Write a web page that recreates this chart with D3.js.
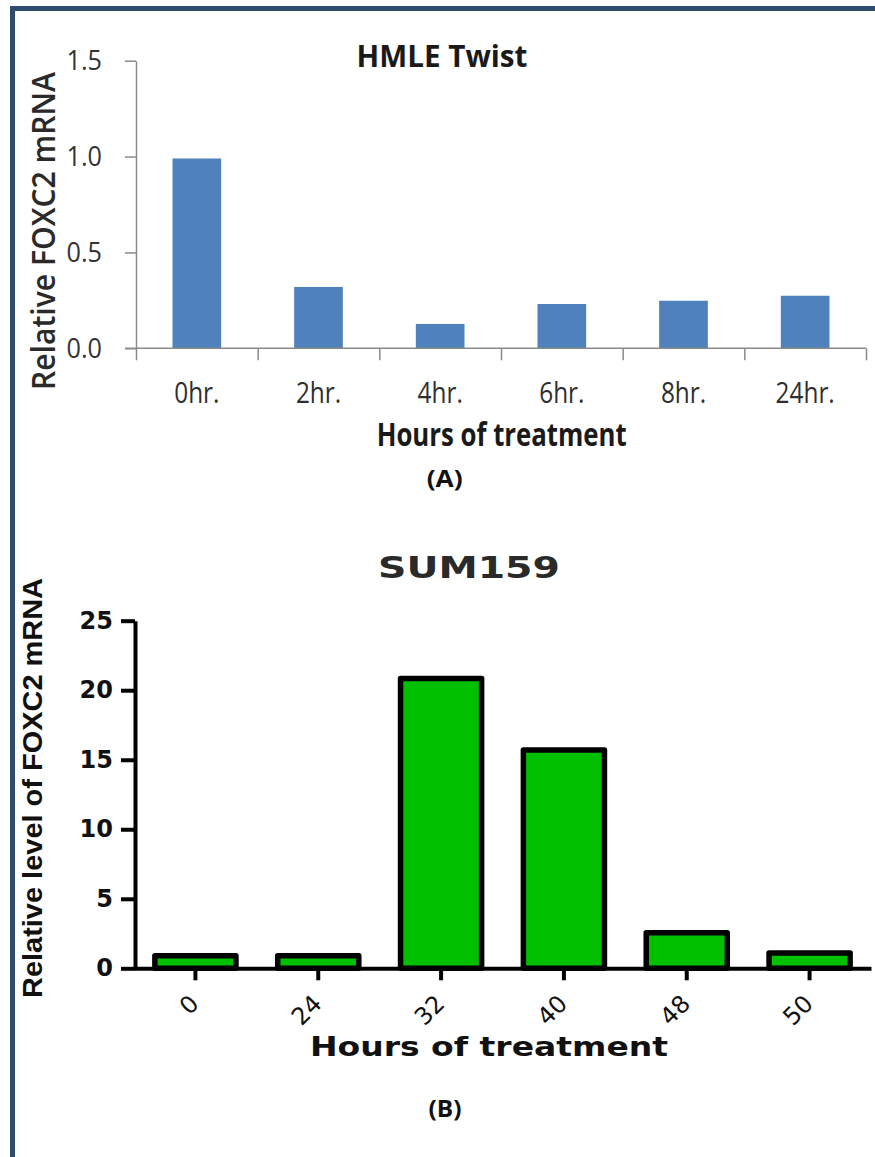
<!DOCTYPE html>
<html>
<head>
<meta charset="utf-8">
<script src="https://cdn.jsdelivr.net/npm/d3@7"></script>
<style>
  body { margin: 0; background: #fff; }
  svg { display: block; }
</style>
</head>
<body>
<div id="chart-area"></div>
<script>
// Data: panel A (HMLE Twist)
const hoursA = ['0hr.', '2hr.', '4hr.', '6hr.', '8hr.', '24hr.'];
const foxc2A = [0.99, 0.32, 0.127, 0.231, 0.248, 0.274];
const ticksA = [0, 0.5, 1.0, 1.5];

// Data: panel B (SUM159)
const hoursB = ['0', '24', '32', '40', '48', '50'];
const foxc2B = [0.9, 0.9, 20.85, 15.7, 2.55, 1.1];
const ticksB = [0, 5, 10, 15, 20, 25];

const W = 875, H = 1157;
const NAVY = '#2f4b70';
const CAL = "'Open Sans', 'Noto Sans', sans-serif";
const ARIAL = "'Liberation Sans', Arial, sans-serif";
const DEJA = "'DejaVu Sans', sans-serif";

const svg = d3.select('#chart-area')
    .append('svg')
    .attr('width', W)
    .attr('height', H);

svg.append('rect').attr('width', W).attr('height', H).attr('fill', '#fff');

// frame (top + left edge only)
svg.append('rect').attr('x', 10).attr('y', 6).attr('width', W - 10).attr('height', 5).attr('fill', NAVY);
svg.append('rect').attr('x', 10).attr('y', 6).attr('width', 5).attr('height', H - 6).attr('fill', NAVY);

// squeeze a text to a factor of its natural width
function condense(sel, k) {
    sel.each(function () {
        const w = this.getComputedTextLength();
        d3.select(this).attr('textLength', w * k).attr('lengthAdjust', 'spacingAndGlyphs');
    });
}

// ---------------- Panel A ----------------
const gA = svg.append('g');
const xA = d3.scaleBand()
    .domain(hoursA)
    .range([136, 866])
    .paddingInner(0.6)
    .paddingOuter(0.3);
const xAb = d3.scaleLinear().domain([0, hoursA.length]).range([136, 866]);
const yA = d3.scaleLinear().domain([0, 1.5]).range([348.3, 60.7]);

gA.selectAll('rect.bar')
    .data(foxc2A)
    .enter().append('rect')
    .attr('class', 'bar')
    .attr('x', (d, i) => xA(hoursA[i]))
    .attr('width', xA.bandwidth())
    .attr('y', d => yA(d))
    .attr('height', d => yA(0) - yA(d))
    .attr('fill', '#4f81bd');

// y axis
const yAxisA = gA.append('g')
    .attr('transform', 'translate(136,0)')
    .call(d3.axisLeft(yA).tickValues(ticksA).tickFormat(d3.format('.1f')).tickSize(11).tickSizeOuter(0).tickPadding(23));
yAxisA.select('.domain').attr('stroke', '#8a8a8a').attr('stroke-width', 1.5);
yAxisA.selectAll('.tick line').attr('stroke', '#8a8a8a').attr('stroke-width', 1.5);
yAxisA.selectAll('text')
    .attr('font-family', CAL).attr('font-size', 28).attr('fill', '#333')
    .call(condense, 0.9);

// x axis boundary ticks
const xAxisA = gA.append('g')
    .attr('transform', `translate(0,${yA(0)})`)
    .call(d3.axisBottom(xAb).ticks(hoursA.length).tickFormat('').tickSize(12).tickSizeOuter(0));
xAxisA.select('.domain').remove();
xAxisA.selectAll('.tick line').attr('stroke', '#8a8a8a').attr('stroke-width', 1.5);
gA.append('line')
    .attr('x1', 125).attr('x2', 866)
    .attr('y1', yA(0)).attr('y2', yA(0))
    .attr('stroke', '#8a8a8a').attr('stroke-width', 1.5);

// x labels
const xLabA = gA.append('g')
    .attr('transform', `translate(0,${yA(0)})`)
    .call(d3.axisBottom(xA).tickSize(0));
xLabA.select('.domain').remove();
xLabA.selectAll('text')
    .attr('y', 55).attr('dy', 0)
    .attr('font-family', CAL).attr('font-size', 29).attr('fill', '#2e2e2e')
    .call(condense, 0.84);

gA.append('text')
    .attr('x', 442).attr('y', 66.7)
    .attr('text-anchor', 'middle')
    .attr('font-family', CAL).attr('font-size', 30).attr('font-weight', 700).attr('fill', '#1a1a1a')
    .attr('textLength', 171).attr('lengthAdjust', 'spacingAndGlyphs')
    .text('HMLE Twist');

gA.append('text')
    .attr('transform', 'translate(55,231) rotate(-90)')
    .attr('text-anchor', 'middle')
    .attr('font-family', CAL).attr('font-size', 32).attr('font-weight', 600).attr('fill', '#2a2a2a')
    .attr('textLength', 318).attr('lengthAdjust', 'spacingAndGlyphs')
    .text('Relative FOXC2 mRNA');

gA.append('text')
    .attr('x', 501.7).attr('y', 446)
    .attr('text-anchor', 'middle')
    .attr('font-family', CAL).attr('font-size', 32).attr('font-weight', 700).attr('fill', '#1a1a1a')
    .attr('textLength', 250).attr('lengthAdjust', 'spacingAndGlyphs')
    .text('Hours of treatment');

gA.append('text')
    .attr('x', 444.7).attr('y', 487)
    .attr('text-anchor', 'middle')
    .attr('font-family', CAL).attr('font-size', 24).attr('font-weight', 700).attr('fill', '#111')
    .attr('textLength', 36).attr('lengthAdjust', 'spacingAndGlyphs')
    .text('(A)');

// ---------------- Panel B ----------------
const gB = svg.append('g');
const xB = d3.scaleBand()
    .domain(hoursB)
    .range([134, 871]);
const yB = d3.scaleLinear().domain([0, 25]).range([968.3, 620.7]);
const barW = xB.bandwidth() * 0.66;

gB.selectAll('rect.bar')
    .data(foxc2B)
    .enter().append('rect')
    .attr('class', 'bar')
    .attr('x', (d, i) => xB(hoursB[i]) + (xB.bandwidth() - barW) / 2)
    .attr('width', barW)
    .attr('y', d => yB(d))
    .attr('height', d => yB(0) - yB(d))
    .attr('fill', '#00c000')
    .attr('stroke', '#000')
    .attr('stroke-width', 5.5)
    .attr('stroke-linejoin', 'round');

const yAxisB = gB.append('g')
    .attr('transform', 'translate(135,0)')
    .call(d3.axisLeft(yB).tickValues(ticksB).tickSize(14).tickSizeOuter(0).tickPadding(8));
yAxisB.select('.domain').attr('stroke', '#000').attr('stroke-width', 4);
yAxisB.selectAll('.tick line').attr('stroke', '#000').attr('stroke-width', 4);
yAxisB.selectAll('text')
    .attr('font-family', DEJA).attr('font-size', 24).attr('font-weight', 700).attr('fill', '#111');

const xAxisB = gB.append('g')
    .attr('transform', `translate(0,${yB(0)})`)
    .call(d3.axisBottom(xB).tickSize(12).tickSizeOuter(0));
xAxisB.select('.domain').attr('stroke', '#000').attr('stroke-width', 4);
xAxisB.selectAll('.tick line').attr('stroke', '#000').attr('stroke-width', 4);
xAxisB.selectAll('text')
    .attr('y', 0).attr('dy', '0.35em')
    .attr('text-anchor', 'end')
    .attr('transform', 'translate(-1,31) rotate(-45)')
    .attr('font-family', DEJA).attr('font-size', 24).attr('font-weight', 400).attr('fill', '#111');

gB.append('text')
    .attr('x', 469).attr('y', 578)
    .attr('text-anchor', 'middle')
    .attr('font-family', DEJA).attr('font-size', 31).attr('font-weight', 700).attr('fill', '#2a2a2a')
    .attr('textLength', 182).attr('lengthAdjust', 'spacingAndGlyphs')
    .text('SUM159');

gB.append('text')
    .attr('transform', 'translate(42,788) rotate(-90)')
    .attr('text-anchor', 'middle')
    .attr('font-family', ARIAL).attr('font-size', 28).attr('font-weight', 700).attr('fill', '#111')
    .attr('textLength', 420).attr('lengthAdjust', 'spacingAndGlyphs')
    .text('Relative level of  FOXC2 mRNA');

gB.append('text')
    .attr('x', 489).attr('y', 1056)
    .attr('text-anchor', 'middle')
    .attr('font-family', DEJA).attr('font-size', 26).attr('font-weight', 700).attr('fill', '#111')
    .attr('textLength', 358).attr('lengthAdjust', 'spacingAndGlyphs')
    .text('Hours of treatment');

gB.append('text')
    .attr('x', 445).attr('y', 1117)
    .attr('text-anchor', 'middle')
    .attr('font-family', CAL).attr('font-size', 24).attr('font-weight', 700).attr('fill', '#111')
    .attr('textLength', 33).attr('lengthAdjust', 'spacingAndGlyphs')
    .text('(B)');
</script>
</body>
</html>
